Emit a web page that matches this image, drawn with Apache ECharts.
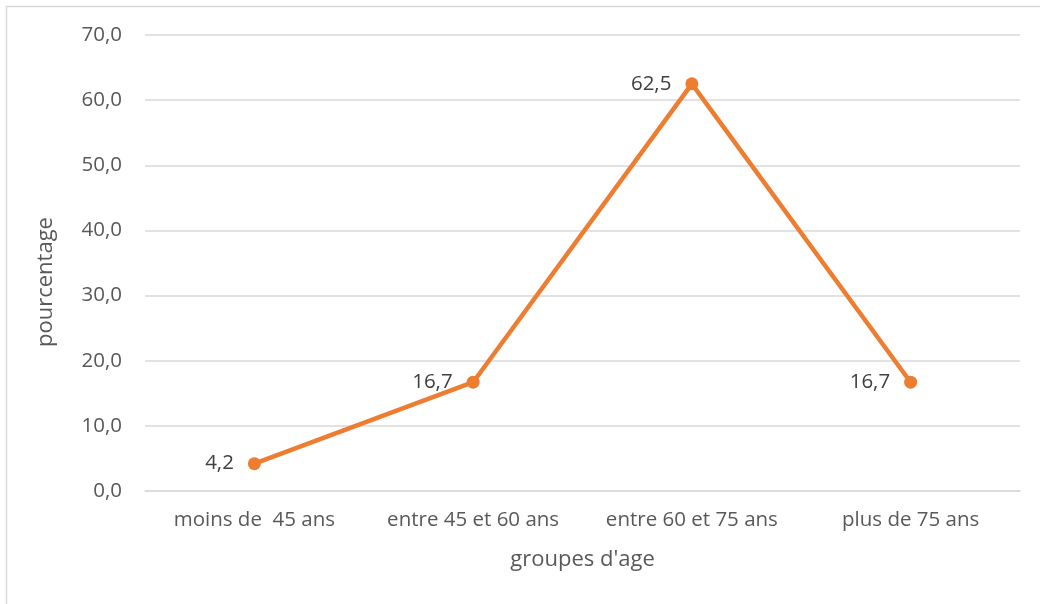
<!DOCTYPE html>
<html>
<head>
<meta charset="utf-8">
<style>
  html, body { margin: 0; padding: 0; background: #ffffff; }
  #chart { width: 1040px; height: 604px; }
</style>
<script src="https://cdn.jsdelivr.net/npm/echarts@6/dist/echarts.min.js"></script>
</head>
<body>
<div id="chart"></div>
<script>
// Répartition par groupes d'âge (%)
const categories = ['moins de  45 ans', 'entre 45 et 60 ans', 'entre 60 et 75 ans', 'plus de 75 ans'];
const pourcentages = [4.2, 16.7, 62.5, 16.7];
const yTicks = { min: 0, max: 70, interval: 10 };
const yTitle = 'pourcentage';
const xTitle = "groupes d'age";

const fmt = v => Number(v).toFixed(1).replace('.', ',');
const FONT = '"Open Sans", "Liberation Sans", sans-serif';

const chart = echarts.init(document.getElementById('chart'), null, { renderer: 'canvas' });
chart.setOption({
  animation: false,
  backgroundColor: '#ffffff',
  textStyle: { fontFamily: FONT },
  graphic: [
    {
      type: 'rect',
      shape: { x: 6.5, y: 6.5, width: 1050, height: 620 },
      style: { fill: 'none', stroke: '#d9d9d9', lineWidth: 1.5 },
      silent: true
    },
    {
      // vertical axis title, centred on the chart area
      type: 'text',
      x: 46,
      y: 282,
      rotation: Math.PI / 2,
      style: {
        text: yTitle,
        fill: '#595959',
        font: '22px ' + FONT,
        align: 'center',
        verticalAlign: 'middle'
      },
      silent: true
    }
  ],
  grid: { left: 145, right: 20, top: 35, bottom: 113, containLabel: false },
  xAxis: {
    type: 'category',
    data: categories,
    boundaryGap: true,
    name: xTitle,
    nameLocation: 'middle',
    nameGap: 58,
    nameTextStyle: { color: '#595959', fontSize: 22, fontFamily: FONT },
    axisLine: { show: true, lineStyle: { color: '#d9d9d9', width: 1.5 } },
    axisTick: { show: false },
    axisLabel: { color: '#595959', fontSize: 20.5, margin: 19, interval: 0, hideOverlap: false, fontFamily: FONT }
  },
  yAxis: {
    type: 'value',
    min: yTicks.min,
    max: yTicks.max,
    interval: yTicks.interval,
    axisLine: { show: false },
    axisTick: { show: false },
    axisLabel: { color: '#595959', fontSize: 20.5, margin: 23, formatter: fmt, fontFamily: FONT },
    splitLine: { show: true, lineStyle: { color: '#d9d9d9', width: 1.5 } }
  },
  series: [{
    type: 'line',
    data: pourcentages,
    symbol: 'circle',
    symbolSize: 13,
    itemStyle: { color: '#ed7d31' },
    lineStyle: { color: '#ed7d31', width: 4.5 },
    label: {
      show: true,
      position: 'left',
      distance: 14,
      color: '#404040',
      fontSize: 20.5,
      fontFamily: FONT,
      formatter: p => fmt(p.value)
    }
  }]
});
</script>
</body>
</html>
